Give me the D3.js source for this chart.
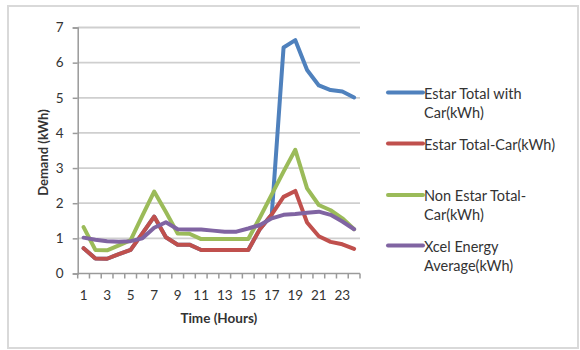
<!DOCTYPE html>
<html>
<head>
<meta charset="utf-8">
<script src="https://cdn.jsdelivr.net/npm/d3@7"></script>
<style>
  html, body { margin: 0; padding: 0; background: #fff; }
  svg { display: block; font-family: Lato, "Open Sans", sans-serif; }
</style>
</head>
<body>
<svg id="chart" width="580" height="350"></svg>
<script>
// Hourly demand profiles (kWh) for hours 1..24
const hours = d3.range(1, 25);
const estarWithCar = [0.72, 0.43, 0.42, 0.55, 0.67, 1.14, 1.62, 1.03, 0.82, 0.82, 0.67, 0.67,
                      0.67, 0.67, 0.67, 1.27, 1.68, 6.43, 6.64, 5.79, 5.35, 5.22, 5.18, 5.01];
const estarNoCar   = [0.72, 0.43, 0.42, 0.55, 0.67, 1.14, 1.62, 1.03, 0.82, 0.82, 0.67, 0.67,
                      0.67, 0.67, 0.67, 1.27, 1.68, 2.18, 2.35, 1.45, 1.06, 0.9, 0.83, 0.7];
const nonEstarNoCar = [1.32, 0.67, 0.66, 0.8, 0.95, 1.65, 2.33, 1.75, 1.14, 1.13, 0.98, 0.98,
                       0.98, 0.98, 0.98, 1.6, 2.25, 2.9, 3.52, 2.42, 1.95, 1.8, 1.57, 1.26];
const xcelAverage  = [1.02, 0.96, 0.92, 0.9, 0.92, 1.0, 1.3, 1.46, 1.26, 1.25, 1.25, 1.22,
                      1.19, 1.19, 1.28, 1.38, 1.57, 1.67, 1.69, 1.73, 1.76, 1.67, 1.48, 1.26];
const yTicks = [0, 1, 2, 3, 4, 5, 6, 7];
const xTickLabels = [1, 3, 5, 7, 9, 11, 13, 15, 17, 19, 21, 23];

const series = [
  { name: ["Estar Total with", "Car(kWh)"], values: estarWithCar, color: "#4F81BD" },
  { name: ["Estar Total-Car(kWh)"], values: estarNoCar, color: "#C0504D" },
  { name: ["Non Estar Total-", "Car(kWh)"], values: nonEstarNoCar, color: "#9BBB59" },
  { name: ["Xcel Energy", "Average(kWh)"], values: xcelAverage, color: "#8064A2" }
];

const svg = d3.select("#chart");

// outer chart frame
svg.append("rect")
  .attr("x", 8).attr("y", 6).attr("width", 570).attr("height", 342)
  .attr("fill", "#fff").attr("stroke", "#d9d9d9").attr("stroke-width", 2);

const plot = { left: 77.7, right: 360, top: 27.5, bottom: 273.5 };

const x = d3.scaleBand().domain(hours).range([plot.left, plot.right]).padding(0);
const cx = h => x(h) + x.bandwidth() / 2;
const y = d3.scaleLinear().domain([0, 7]).range([plot.bottom, plot.top]);

// horizontal gridlines
svg.append("g").selectAll("line")
  .data(yTicks.filter(v => v > 0))
  .join("line")
  .attr("x1", plot.left).attr("x2", plot.right)
  .attr("y1", d => y(d)).attr("y2", d => y(d))
  .attr("stroke", "#cfcfcf").attr("stroke-width", 1.8);

// y axis
const yAxis = svg.append("g")
  .attr("transform", `translate(${plot.left},0)`)
  .call(d3.axisLeft(y).tickValues(yTicks).tickSize(5).tickPadding(9).tickFormat(d3.format("d")));
yAxis.select(".domain").attr("stroke", "#9a9a9a").attr("stroke-width", 1.5);
yAxis.selectAll(".tick line").attr("stroke", "#9a9a9a").attr("stroke-width", 1.5);
yAxis.selectAll(".tick text").attr("font-size", 13.5).attr("fill", "#333")
  .attr("font-family", "Lato, sans-serif");

// x axis: tick marks at category boundaries, labels on odd hours
const xAxisG = svg.append("g");
xAxisG.append("line")
  .attr("x1", plot.left).attr("x2", plot.right)
  .attr("y1", plot.bottom).attr("y2", plot.bottom)
  .attr("stroke", "#9a9a9a").attr("stroke-width", 1.5);
const boundaries = hours.map(h => x(h)).concat([plot.right]);
xAxisG.selectAll("line.tk")
  .data(boundaries)
  .join("line").attr("class", "tk")
  .attr("x1", d => d).attr("x2", d => d)
  .attr("y1", plot.bottom).attr("y2", plot.bottom + 5)
  .attr("stroke", "#9a9a9a").attr("stroke-width", 1.5);
xAxisG.selectAll("text")
  .data(xTickLabels)
  .join("text")
  .attr("x", d => cx(d)).attr("y", 300)
  .attr("text-anchor", "middle").attr("font-size", 13.5).attr("fill", "#333")
  .text(d => d);

// axis titles
svg.append("text")
  .attr("x", (plot.left + plot.right) / 2).attr("y", 323)
  .attr("text-anchor", "middle").attr("font-size", 13.5).attr("font-weight", "bold").attr("fill", "#333")
  .text("Time (Hours)");
svg.append("text")
  .attr("transform", `translate(48,${(plot.top + plot.bottom) / 2 + 2}) rotate(-90)`)
  .attr("text-anchor", "middle").attr("font-size", 13).attr("font-weight", "bold").attr("fill", "#333")
  .text("Demand (kWh)");

// series lines
const line = d3.line().x((d, i) => cx(hours[i])).y(d => y(d));
svg.append("g").selectAll("path")
  .data(series)
  .join("path")
  .attr("d", d => line(d.values))
  .attr("fill", "none")
  .attr("stroke", d => d.color)
  .attr("stroke-width", 4)
  .attr("stroke-linejoin", "round")
  .attr("stroke-linecap", "round");

// legend
const legendY = [92.5, 143.5, 195, 245.5];
const legend = svg.append("g").selectAll("g")
  .data(series)
  .join("g")
  .attr("transform", (d, i) => `translate(388,${legendY[i]})`);
legend.append("line")
  .attr("x1", 0).attr("x2", 35)
  .attr("stroke", d => d.color).attr("stroke-width", 4).attr("stroke-linecap", "round");
legend.append("text")
  .attr("x", 36).attr("y", 6)
  .attr("font-size", 14.5).attr("fill", "#333")
  .selectAll("tspan")
  .data(d => d.name)
  .join("tspan")
  .attr("x", 36).attr("dy", (d, i) => i === 0 ? 0 : 19)
  .text(d => d);
</script>
</body>
</html>
